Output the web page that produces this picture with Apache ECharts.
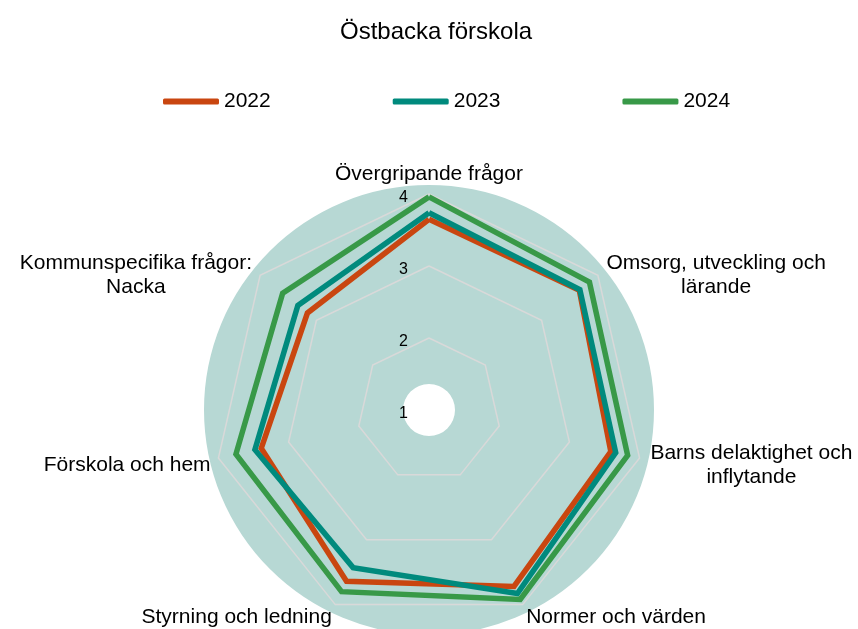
<!DOCTYPE html>
<html>
<head>
<meta charset="utf-8">
<script src="https://cdn.jsdelivr.net/npm/echarts@6/dist/echarts.min.js"></script>
<style>
  html, body { margin: 0; padding: 0; background: #fff; }
  #chart { width: 858px; height: 629px; }
</style>
</head>
<body>
<div id="chart"></div>
<script>
// indicators, listed counter-clockwise from the top (echarts radar order)
const indicators = [
  'Övergripande frågor',
  'Kommunspecifika frågor:\nNacka',
  'Förskola och hem',
  'Styrning och ledning',
  'Normer och värden',
  'Barns delaktighet och\ninflytande',
  'Omsorg, utveckling och\nlärande'
];

const years = ['2022', '2023', '2024'];

const values2022 = [3.65, 3.16, 3.39, 3.64, 3.72, 3.59, 3.67];
const values2023 = [3.74, 3.33, 3.48, 3.43, 3.83, 3.66, 3.68];
const values2024 = [3.96, 3.60, 3.75, 3.80, 3.92, 3.83, 3.85];

const colors = ['#c94610', '#008a7d', '#389948'];

const FONT = '"Liberation Sans", Arial, sans-serif';
const CENTER = [429, 410];

// wrapped names get their lines centred inside a fixed box
const wrapStyle = {
  kommun: 236,
  barns: 208,
  omsorg: 224
};

const chart = echarts.init(document.getElementById('chart'));

const option = {
  backgroundColor: '#fff',
  animation: false,
  title: {
    text: 'Östbacka förskola',
    left: 335,
    top: 15,
    textStyle: { fontFamily: FONT, fontSize: 24, fontWeight: 'normal', color: '#000' }
  },
  legend: {
    data: years,
    left: 158,
    top: 86,
    itemWidth: 56,
    itemHeight: 6,
    itemGap: 122,
    icon: 'roundRect',
    textStyle: { fontFamily: FONT, fontSize: 21, color: '#000' }
  },
  radar: {
    z: 1,
    center: CENTER,
    radius: 216,
    startAngle: 90,
    shape: 'polygon',
    splitNumber: 3,
    nameGap: 8,
    indicator: indicators.map((name, i) => {
      const ind = { name: name, min: 1, max: 4 };
      if (i === 0) {
        // tick labels only on the top axis
        ind.axisLabel = { show: true };
      }
      return ind;
    }),
    axisName: {
      color: '#000',
      fontFamily: FONT,
      fontSize: 21,
      lineHeight: 24,
      padding: [10, 0, 0, 0],
      formatter: (name) => {
        if (name.indexOf('\n') < 0) return name;
        const key = name.startsWith('Kommun') ? 'kommun' : (name.startsWith('Barns') ? 'barns' : 'omsorg');
        return name.split('\n').map((l) => `{${key}|${l}}`).join('\n');
      },
      rich: Object.fromEntries(Object.keys(wrapStyle).map((k) => [k, {
        width: wrapStyle[k], align: 'center', fontFamily: FONT, fontSize: 21, lineHeight: 24, color: '#000'
      }]))
    },
    axisLine: { show: false },
    axisTick: { show: false },
    axisLabel: {
      show: false,
      fontFamily: FONT,
      fontSize: 16,
      color: '#000',
      margin: 21,
      verticalAlign: 'top',
      lineHeight: 8
    },
    splitLine: { lineStyle: { color: '#d9d9d9', width: 1.5 } },
    splitArea: { show: false }
  },
  series: [
    {
      // round plot background
      type: 'pie',
      z: 0,
      silent: true,
      center: CENTER,
      radius: [26, 225],
      label: { show: false },
      labelLine: { show: false },
      emphasis: { disabled: true },
      itemStyle: { color: '#b7d8d4' },
      data: [{ value: 1, name: 'bg' }]
    },
    {
      type: 'radar',
      symbol: 'none',
      z: 3,
      data: [
        { name: '2022', value: values2022, lineStyle: { color: colors[0], width: 5.5, join: 'miter' }, itemStyle: { color: colors[0] } },
        { name: '2023', value: values2023, lineStyle: { color: colors[1], width: 5.5, join: 'miter' }, itemStyle: { color: colors[1] } },
        { name: '2024', value: values2024, lineStyle: { color: colors[2], width: 5.5, join: 'miter' }, itemStyle: { color: colors[2] } }
      ]
    }
  ]
};

chart.setOption(option);
</script>
</body>
</html>
